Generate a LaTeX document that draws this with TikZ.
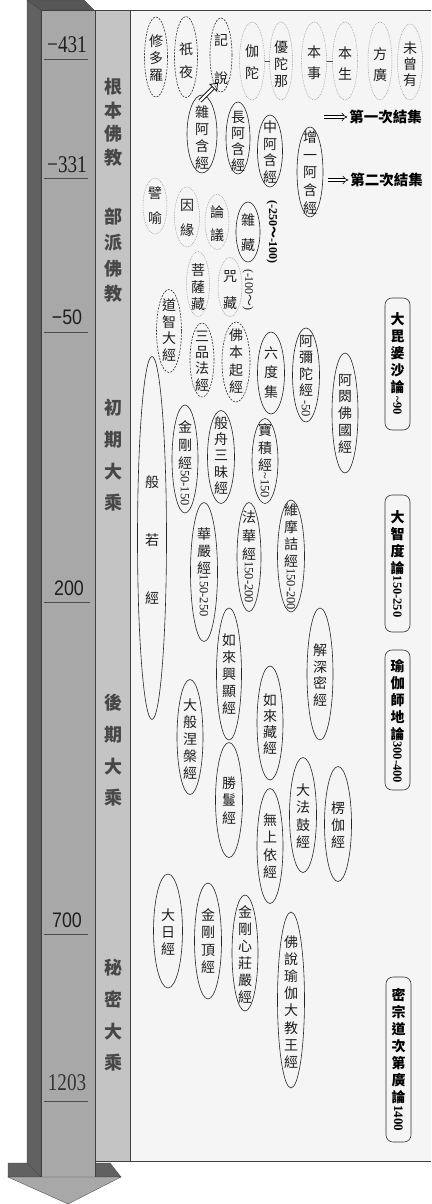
\documentclass[tikz,border=0pt]{standalone}
\usepackage{fontspec}
\usepackage{graphicx}
\usetikzlibrary{arrows.meta,shapes.geometric}
\newfontfamily\cjk{Noto Sans CJK TC}
\newfontfamily\serifnum{Liberation Serif}
\newfontfamily\sansnum{Liberation Sans}
\newcommand\rnum[1]{\rotatebox[origin=c]{-90}{\serifnum\fontsize{12.5}{12.5}\selectfont #1}}
\newcommand\rbnum[1]{\rotatebox[origin=c]{-90}{\serifnum\bfseries\fontsize{12.5}{12.5}\selectfont #1}}
\newcommand\ovnode[9][]{%
  \node[#3, minimum width=#6pt, minimum height=#7pt] (#2) at (#4,#5) {};
  \node[vt,#1] (#2t) at (#4,#8) {#9};}
\newcommand\boxnode[7]{%
  \node[bx, minimum width=#4pt, minimum height=#5pt] (#1) at (#2,#3) {};
  \node[bt] (#1t) at (#2,#6) {#7};}
\tikzset{
  every node/.style={inner sep=0pt, outer sep=0pt},
  ov/.style={ellipse, draw=black!85, line width=0.6pt},
  ovd/.style={ellipse, draw=black!80, line width=0.6pt, dash pattern=on 2pt off 1.2pt},
  ovl/.style={ellipse, draw=black!45, line width=0.5pt, dash pattern=on 0.7pt off 1pt},
  vt/.style={align=center, text=black!88, font=\cjk\fontsize{14}{17}\selectfont},
  sp/.style={font=\cjk\fontsize{14}{#1}\selectfont},
  bx/.style={rectangle, rounded corners=7pt, draw=black!80, line width=0.6pt},
  bt/.style={align=center, text=black, font=\cjk\bfseries\fontsize{14}{17}\selectfont},
  era/.style={align=center, text=black!72, font=\cjk\bfseries\fontsize{18}{#1}\selectfont},
  ct/.style={text=black, font=\cjk\bfseries\fontsize{14.5}{14.5}\selectfont},
  imp/.style={double, double distance=2.4pt, line width=0.6pt, -{Implies}, shorten >=2pt},
  hol/.style={draw=black, double=white, double distance=2.4pt, line width=0.75pt, -{Triangle[open, length=7pt, width=11pt, line width=0.75pt]}},
  face/.style={draw=black!75, line width=0.3pt},
  tick/.style={draw=black!70, line width=0.6pt},
}
\begin{document}
\begin{tikzpicture}[x=1pt, y=-1pt]
\useasboundingbox (0,0) rectangle (431,1204);
% 3D arrow
\filldraw[face, fill=black!62] (27,0) -- (41,10) -- (41,1177) -- (27,1163) -- cycle;
\filldraw[face, fill=black!66] (27,0) -- (84,0) -- (94,10) -- (41,10) -- cycle;
\filldraw[face, fill=black!62] (8,1163) -- (27,1163) -- (41,1177) -- (8,1177) -- cycle;
\filldraw[face, fill=black!62] (95,1163) -- (110,1163) -- (121,1177) -- (95,1177) -- cycle;
\filldraw[face, fill=black!34] (41,10) rectangle (95,1177);
\filldraw[face, fill=black!34] (8,1177) -- (121,1177) -- (68,1204) -- cycle;
% band and panel
\fill[black!23] (95,10) rectangle (130,1161);
\fill[black!4] (130,10) rectangle (431,1161);
\draw[black!75, line width=0.7pt] (95,10) -- (431,10) (95,1161) -- (431,1161) (130,10) -- (130,1161) (95,10) -- (95,1161);
% years
\node[text=black!88] (y1) at (67,45) {\scalebox{0.8}[1]{\serifnum\fontsize{24}{24}\selectfont −431}};
\node[text=black!88] (y2) at (67,165) {\scalebox{0.8}[1]{\serifnum\fontsize{24}{24}\selectfont −331}};
\node[text=black!88] (y3) at (67,317) {\scalebox{0.85}[1]{\sansnum\fontsize{21}{21}\selectfont −50}};
\node[text=black!88] (y4) at (69,588) {\scalebox{0.85}[1]{\sansnum\fontsize{21}{21}\selectfont 200}};
\node[text=black!88] (y5) at (67,920) {\scalebox{0.85}[1]{\sansnum\fontsize{21}{21}\selectfont 700}};
\node[text=black!80] (y6) at (67,1083) {\scalebox{0.8}[1]{\serifnum\fontsize{24}{24}\selectfont 1203}};
\draw[tick] (44,59) -- (88,59) (44,178) -- (88,178) (44,332) -- (88,332) (44,602) -- (90,602) (44,934) -- (88,934) (44,1101) -- (88,1101);
% eras
\node[era=23.5] (e1) at (113,122) {根\\本\\佛\\教};
\node[era=25.7] (e2) at (113,255.5) {部\\派\\佛\\教};
\node[era=31.7] (e3) at (113,455.5) {初\\期\\大\\乘};
\node[era=31.7] (e4) at (113,750.5) {後\\期\\大\\乘};
\node[era=31.7] (e5) at (113,1015.5) {秘\\密\\大\\乘};
% row 1
\ovnode[sp=17]{smd}{ovd}{156}{57}{23}{80}{58}{修\\多\\羅}
\ovnode[sp=23]{gy}{ovd}{186}{57}{23}{81}{60.5}{祇\\夜}
\ovnode[sp=38]{jsh}{ovd}{221}{55}{22}{74}{59}{記\\說}
\ovnode[sp=22]{gt}{ovl}{252}{61}{25}{78}{62}{伽\\陀}
\ovnode[sp=17]{ytn}{ovl}{281}{61}{23}{78}{64}{優\\陀\\那}
\ovnode[sp=21]{bsh}{ovl}{314}{61}{25}{78}{63}{本\\事}
\ovnode[sp=21]{bsn}{ovl}{345}{61}{25}{78}{63}{本\\生}
\ovnode[sp=21]{fg}{ovl}{380}{61}{24}{78}{65}{方\\廣}
\ovnode[sp=16]{wcy}{ovl}{410}{62}{25}{76}{64}{未\\曾\\有}
\draw[black!70, line width=0.6pt] (gt.east) -- (ytn.west);
\draw[black!70, line width=0.6pt] (bsh.east) -- (bsn.west);
% row 2
\ovnode[sp=17]{za}{ov}{202}{134}{30}{78}{137.5}{雜\\阿\\含\\經}
\ovnode[sp=16]{cha}{ov}{238}{138}{24}{72}{141}{長\\阿\\含\\經}
\ovnode[sp=16.7]{zha}{ov}{270}{151}{25}{72}{152}{中\\阿\\含\\經}
\ovnode[sp=17.7]{zya}{ov}{310}{172}{26}{90}{172.5}{增\\一\\阿\\含\\經}
\draw[hol] ([xshift=-2pt,yshift=-6pt]za.north) -- ([xshift=-3pt,yshift=9pt]jsh.south);
\node[ct] (k1) at (385.5,117) {第一次結集};
\coordinate (k1s) at (324,117);
\draw[imp] (k1s) -- (k1.west);
\node[ct] (k2) at (386.5,180) {第二次結集};
\coordinate (k2s) at (328,180);
\draw[imp] (k2s) -- (k2.west);
% row 3
\ovnode[sp=25]{py}{ovl}{155}{206}{24}{56}{205.5}{譬\\喻}
\ovnode[sp=25]{yy}{ovl}{187}{217}{25}{60}{217.5}{因\\緣}
\ovnode[sp=23]{ly}{ovl}{217}{222}{24}{55}{223.5}{論\\議}
\ovnode[sp=25]{zc}{ov}{248}{232}{24}{60}{232.5}{雜\\藏}
\node[text=black] (r1) at (272,232) {\rotatebox{-90}{\serifnum\bfseries\fontsize{12}{12}\selectfont(-250{\cjk ～}-100)}};
\ovnode[sp=17]{pst}{ovl}{198}{284}{23}{65}{287}{菩\\薩\\藏}
\ovnode[sp=27]{zhc}{ovl}{230}{287}{24}{59}{290.5}{咒\\藏}
\node[text=black!85] (r2) at (248,290) {\rotatebox{-90}{\serifnum\fontsize{12}{12}\selectfont(-100{\cjk ～})}};
\ovnode[sp=16.7]{dz}{ovd}{169}{331}{25}{83}{330}{道\\智\\大\\經}
\ovnode[sp=16.3]{spf}{ovd}{202}{360}{24}{74}{361}{三\\品\\法\\經}
\ovnode[sp=17.3]{fbq}{ovd}{236}{362}{28}{80}{361}{佛\\本\\起\\經}
% row 4
\ovnode[sp=19.5]{ldj}{ov}{271}{373}{27}{82}{372.5}{六\\度\\集}
\ovnode[sp=16.5]{amt}{ov}{306}{375}{27}{94}{376}{阿\\彌\\陀\\經\\\rnum{-50}}
\ovnode[sp=16.8]{acf}{ov}{345}{413}{26}{120}{413.5}{阿\\閦\\佛\\國\\經}
\ovnode[sp=58]{brj}{ov}{152}{538}{29}{363}{540}{般\\若\\經}
\ovnode[sp=18]{jgj}{ov}{185}{459}{26}{108}{463}{金\\剛\\經\\\rnum{50-150}}
\ovnode[sp=16.3]{bzs}{ov}{221}{457}{27}{93}{455.5}{般\\舟\\三\\昧\\經}
\ovnode[sp=17.5]{bjj}{ov}{265}{461}{26}{85}{461}{寶\\積\\經\\\rnum{\textasciitilde150}}
\ovnode[sp=17]{wmj}{ov}{291}{556}{27}{112}{557}{維\\摩\\詰\\經\\\rnum{150-200}}
\ovnode[sp=18.5]{fhj}{ov}{249}{557}{24}{109}{557}{法\\華\\經\\\rnum{150-200}}
\ovnode[sp=17]{hyj}{ov}{204}{572}{27}{139}{572}{華\\嚴\\經\\\rnum{150-250}}
% row 5
\ovnode[sp=16.7]{jsm}{ov}{320}{674}{26}{132}{675}{解\\深\\密\\經}
\ovnode[sp=17]{rxx}{ov}{229}{674}{25}{132}{674}{如\\來\\興\\顯\\經}
\ovnode[sp=16]{rzj}{ov}{270}{723}{26}{114}{724}{如\\來\\藏\\經}
\ovnode[sp=17]{dnp}{ov}{190}{737}{26}{115}{739}{大\\般\\涅\\槃\\經}
\ovnode[sp=17.5]{smj}{ov}{229}{800}{27}{115}{800.5}{勝\\鬘\\經}
\ovnode[sp=17.3]{wsy}{ov}{270}{846}{26}{115}{846}{無\\上\\依\\經}
\ovnode[sp=17.3]{dfg}{ov}{303}{815}{27}{115}{816}{大\\法\\鼓\\經}
\ovnode[sp=17]{lqj}{ov}{338}{824}{27}{115}{825}{楞\\伽\\經}
% row 6
\ovnode[sp=17]{drj}{ov}{168}{931}{29}{114}{932}{大\\日\\經}
\ovnode[sp=17.3]{jdj}{ov}{208}{941}{27}{116}{941}{金\\剛\\頂\\經}
\ovnode[sp=17]{jxz}{ov}{245}{953}{26}{116}{954.5}{金\\剛\\心\\莊\\嚴\\經}
\ovnode[sp=17.1]{fsy}{ov}{291}{1000}{27}{176}{1002}{佛\\說\\瑜\\伽\\大\\教\\王\\經}
% right boxes
\boxnode{bxa}{397.5}{364}{25}{132}{364}{大\\毘\\婆\\沙\\論\\\rbnum{\textasciitilde90}}
\boxnode{bxb}{397.5}{563.5}{25}{137}{564}{大\\智\\度\\論\\\rbnum{150-250}}
\boxnode{bxc}{397.5}{720}{25}{140}{721}{瑜\\伽\\師\\地\\論\\\rbnum{300-400}}
\boxnode{bxd}{398.5}{1059.5}{25}{165}{1060}{密\\宗\\道\\次\\第\\廣\\論\\\rotatebox[origin=c]{-90}{\serifnum\fontsize{13}{13}\selectfont 1400}}
\end{tikzpicture}
\end{document}
